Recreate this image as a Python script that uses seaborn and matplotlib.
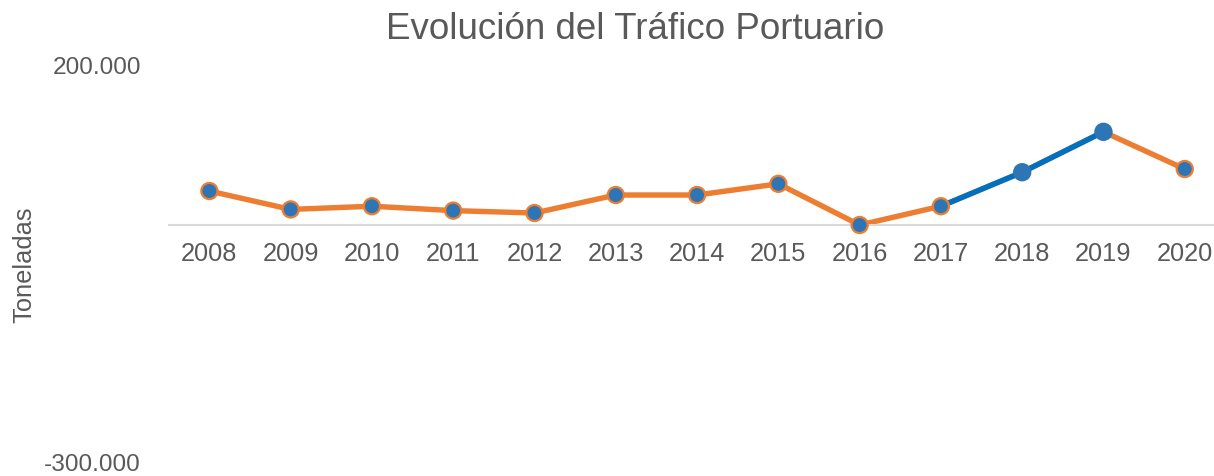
import numpy as np
import pandas as pd
import matplotlib
matplotlib.use("Agg")
import matplotlib.pyplot as plt
import matplotlib.transforms as mtransforms
import seaborn as sns

# Data
years = ["2008", "2009", "2010", "2011", "2012", "2013", "2014",
         "2015", "2016", "2017", "2018", "2019", "2020"]
toneladas = [42500, 19500, 23500, 18000, 15000, 37500, 37500,
             51500, 0, 23500, 66000, 116500, 70000]
# segment 2017 -> 2019 is highlighted in blue
highlight_years = ["2017", "2018", "2019"]
marker_edge = ["#ED7D31"] * 10 + ["#2E75B6", "#2E75B6", "#ED7D31"]

sns.set_theme(style="white")
plt.rcParams["font.family"] = ["Liberation Sans", "DejaVu Sans"]

df = pd.DataFrame({"year": years, "t": toneladas})
df["x"] = np.arange(len(years))
hl = df[df["year"].isin(highlight_years)]

fig = plt.figure(figsize=(12.14, 4.76), dpi=100)
ax = fig.add_axes([0.139, 0.0231, 0.861, 0.8403])

sns.lineplot(data=df, x="x", y="t", color="#ED7D31", linewidth=3.9,
             ax=ax, zorder=2)
sns.lineplot(data=hl, x="x", y="t", color="#0070C0", linewidth=3.9,
             ax=ax, zorder=3)
sns.scatterplot(data=df, x="x", y="t", color="#2E75B6", s=135,
                edgecolor=marker_edge, linewidth=1.6, ax=ax, zorder=4)

ax.set_ylim(-300000, 200000)
ax.set_xlim(-0.5, 12.36)
ax.set_yticks([-300000, 200000])
ax.set_yticklabels(["-300.000", "200.000"])
ax.set_xticks(df["x"])
ax.set_xticklabels(years)

for s in ["top", "right", "left"]:
    ax.spines[s].set_visible(False)
ax.spines["bottom"].set_position(("data", 0))
ax.spines["bottom"].set_color("#D9D9D9")
ax.spines["bottom"].set_linewidth(1.5)

ax.tick_params(axis="x", length=0, pad=12, labelsize=18.3, colors="#595959")
ax.tick_params(axis="y", length=0, pad=20, labelsize=17.6, colors="#595959")
ax.set_xlabel("")
ax.set_ylabel("Toneladas", fontsize=18.3, color="#595959")
ax.yaxis.set_label_coords(-0.127, 0.5)

# nudge the bottom tick label up so it is not clipped by the figure edge
low = ax.get_yticklabels()[0]
low.set_transform(low.get_transform() + mtransforms.ScaledTranslation(0, 3 / 100, fig.dpi_scale_trans))

fig.text(0.523, 0.937, "Evolución del Tráfico Portuario", fontsize=26.5,
         color="#595959", ha="center", va="center")

fig.savefig("out.png", dpi=100)
